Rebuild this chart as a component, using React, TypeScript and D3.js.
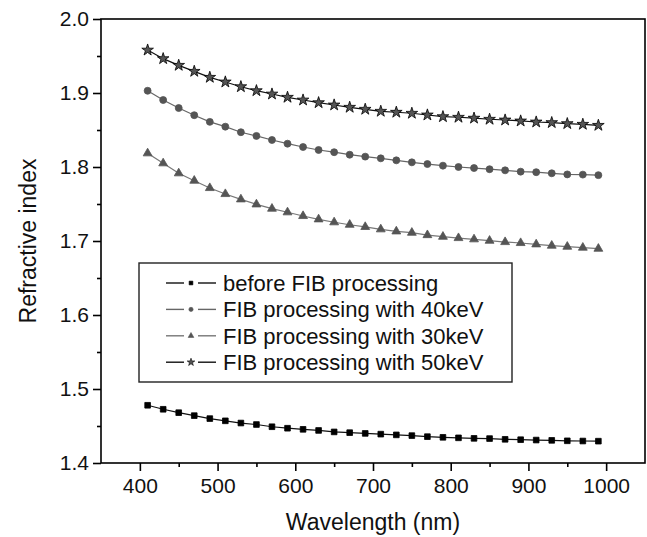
import React, { useRef, useEffect } from "react";
import * as d3 from "d3";

const wavelengths = [410, 430, 450, 470, 490, 510, 530, 550, 570, 590, 610, 630, 650, 670, 690,
  710, 730, 750, 770, 790, 810, 830, 850, 870, 890, 910, 930, 950, 970, 990];

const beforeFib = [1.478, 1.4726, 1.468, 1.464, 1.460, 1.457, 1.454, 1.452, 1.449, 1.447, 1.4455,
  1.444, 1.442, 1.441, 1.440, 1.439, 1.438, 1.437, 1.4356, 1.4347, 1.434, 1.4333, 1.433, 1.432,
  1.4315, 1.431, 1.4306, 1.430, 1.4297, 1.4295];

const fib40 = [1.903, 1.8905, 1.8797, 1.870, 1.861, 1.8545, 1.847, 1.842, 1.8365, 1.8315, 1.827,
  1.823, 1.820, 1.8166, 1.814, 1.8117, 1.809, 1.8063, 1.804, 1.8018, 1.800, 1.7986, 1.797, 1.7955,
  1.7937, 1.793, 1.7915, 1.790, 1.7897, 1.789];

const fib30 = [1.8185, 1.805, 1.7915, 1.7815, 1.7716, 1.7635, 1.7563, 1.7495, 1.7437, 1.7388,
  1.7338, 1.7293, 1.7253, 1.722, 1.719, 1.7158, 1.713, 1.7112, 1.708, 1.7058, 1.704, 1.7023,
  1.7004, 1.6986, 1.6973, 1.6955, 1.6937, 1.6923, 1.691, 1.6896];

const fib50 = [1.958, 1.9464, 1.9374, 1.9293, 1.9212, 1.9149, 1.9085, 1.9031, 1.8986, 1.8942,
  1.8905, 1.8869, 1.8838, 1.8807, 1.878, 1.8753, 1.874, 1.8726, 1.8703, 1.868, 1.8672, 1.866,
  1.8645, 1.8635, 1.8622, 1.8608, 1.860, 1.8586, 1.8577, 1.8563];

const seriesNames = [
  "before FIB processing",
  "FIB processing with 40keV",
  "FIB processing with 30keV",
  "FIB processing with 50keV",
];

const xTicks = [400, 500, 600, 700, 800, 900, 1000];
const yTicks = [1.4, 1.5, 1.6, 1.7, 1.8, 1.9, 2.0];

const FONT = "'Liberation Sans', Arial, sans-serif";

const App = () => {
  const plot = useRef<SVGSVGElement>(null);

  const width = 647;
  const height = 537;
  const left = 101;
  const right = 645;
  const top = 19;
  const bottom = 463;

  useEffect(() => {
    const svg = d3.select(plot.current);
    svg.selectAll("*").remove();

    const xScale = d3.scaleLinear().domain([350, 1050]).range([left, right]);
    const yScale = d3.scaleLinear().domain([1.4, 2.0]).range([bottom, top]);

    const series = [
      { name: seriesNames[0], values: beforeFib, symbol: d3.symbolSquare, size: 32, legendSize: 14, fill: "#000", stroke: "#000", line: "#111" },
      { name: seriesNames[1], values: fib40, symbol: d3.symbolCircle, size: 38, legendSize: 14, fill: "#555", stroke: "#555", line: "#666" },
      { name: seriesNames[2], values: fib30, symbol: d3.symbolTriangle, size: 34, legendSize: 14, fill: "#555", stroke: "#555", line: "#777" },
      { name: seriesNames[3], values: fib50, symbol: d3.symbolStar, size: 42, legendSize: 18, fill: "#555", stroke: "#000", line: "#111" },
    ];

    const line = d3.line<number>()
      .x((d, i) => xScale(wavelengths[i]))
      .y(d => yScale(d));

    // curves + markers
    series.forEach(s => {
      svg.append("path")
        .attr("fill", "none")
        .attr("stroke", s.line)
        .attr("stroke-width", 1.2)
        .attr("d", line(s.values));

      const sym = d3.symbol().type(s.symbol).size(s.size);
      svg.append("g")
        .selectAll("path")
        .data(s.values)
        .join("path")
        .attr("transform", (d, i) => `translate(${xScale(wavelengths[i])},${yScale(d)})`)
        .attr("d", sym())
        .attr("fill", s.fill)
        .attr("stroke", s.stroke)
        .attr("stroke-width", 0.8);
    });

    // frame
    svg.append("rect")
      .attr("x", left)
      .attr("y", top)
      .attr("width", right - left)
      .attr("height", bottom - top)
      .attr("fill", "none")
      .attr("stroke", "#000")
      .attr("stroke-width", 1.6);

    // x axis
    const xAxis = d3.axisBottom(xScale)
      .tickValues(xTicks)
      .tickSize(8)
      .tickPadding(6)
      .tickFormat(d3.format("d"));
    const xMinor = d3.axisBottom(xScale)
      .tickValues(xTicks.map(t => t + 50).filter(t => t < 1050))
      .tickSize(4)
      .tickFormat(() => "");

    svg.append("g")
      .attr("transform", `translate(0, ${bottom})`)
      .call(xAxis)
      .call(g => g.select(".domain").remove())
      .call(g => g.selectAll(".tick line").attr("stroke", "#000").attr("stroke-width", 1.6))
      .call(g => g.selectAll(".tick text")
        .attr("font-family", FONT).attr("font-size", 21).attr("fill", "#111").attr("dy", "0.75em"));
    svg.append("g")
      .attr("transform", `translate(0, ${bottom})`)
      .call(xMinor)
      .call(g => g.select(".domain").remove())
      .call(g => g.selectAll(".tick line").attr("stroke", "#000").attr("stroke-width", 1.6));

    // y axis
    const yAxis = d3.axisLeft(yScale)
      .tickValues(yTicks)
      .tickSize(8)
      .tickPadding(4)
      .tickFormat(d3.format(".1f"));
    const yMinor = d3.axisLeft(yScale)
      .tickValues(yTicks.slice(0, -1).map(t => t + 0.05))
      .tickSize(4)
      .tickFormat(() => "");

    svg.append("g")
      .attr("transform", `translate(${left}, 0)`)
      .call(yAxis)
      .call(g => g.select(".domain").remove())
      .call(g => g.selectAll(".tick line").attr("stroke", "#000").attr("stroke-width", 1.6))
      .call(g => g.selectAll(".tick text")
        .attr("font-family", FONT).attr("font-size", 21).attr("fill", "#111"));
    svg.append("g")
      .attr("transform", `translate(${left}, 0)`)
      .call(yMinor)
      .call(g => g.select(".domain").remove())
      .call(g => g.selectAll(".tick line").attr("stroke", "#000").attr("stroke-width", 1.6));

    // axis titles
    svg.append("text")
      .attr("x", (left + right) / 2)
      .attr("y", 530)
      .attr("text-anchor", "middle")
      .attr("font-family", FONT)
      .attr("font-size", 23)
      .attr("fill", "#111")
      .text("Wavelength (nm)");

    svg.append("text")
      .attr("transform", `translate(36, ${(top + bottom) / 2}) rotate(-90)`)
      .attr("text-anchor", "middle")
      .attr("font-family", FONT)
      .attr("font-size", 23)
      .attr("fill", "#111")
      .text("Refractive index");

    // legend
    const legend = svg.append("g");
    legend.append("rect")
      .attr("x", 139)
      .attr("y", 263)
      .attr("width", 512 - 139)
      .attr("height", 382 - 263)
      .attr("fill", "#fff")
      .attr("stroke", "#222")
      .attr("stroke-width", 1.4);

    series.forEach((s, i) => {
      const cy = 283 + i * 26.4;
      legend.append("line")
        .attr("x1", 166).attr("x2", 184)
        .attr("y1", cy).attr("y2", cy)
        .attr("stroke", s.line).attr("stroke-width", 1.4);
      legend.append("line")
        .attr("x1", 198).attr("x2", 216)
        .attr("y1", cy).attr("y2", cy)
        .attr("stroke", s.line).attr("stroke-width", 1.4);
      legend.append("path")
        .attr("transform", `translate(191, ${cy})`)
        .attr("d", d3.symbol().type(s.symbol).size(s.legendSize)())
        .attr("fill", s.fill)
        .attr("stroke", s.stroke)
        .attr("stroke-width", 0.6);
      legend.append("text")
        .attr("x", 223)
        .attr("y", cy)
        .attr("dy", "0.36em")
        .attr("font-family", FONT)
        .attr("font-size", 22)
        .attr("fill", "#111")
        .text(s.name);
    });
  });

  return (
    <svg ref={plot} width={width} height={height}
      style={{ position: "absolute", left: 0, top: 0, background: "#fff" }} />
  );
};

export default App;
